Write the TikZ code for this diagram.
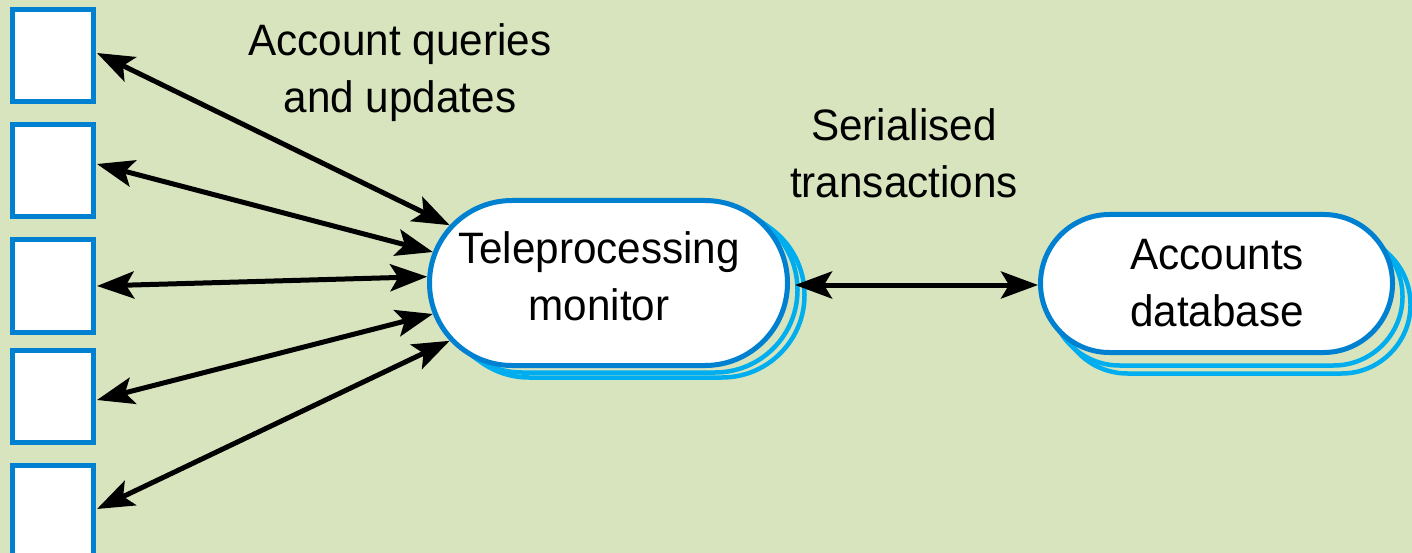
\documentclass[tikz,border=0pt]{standalone}
\usepackage{fontspec}
\setmainfont{Liberation Sans}[FakeStretch=0.96]
\usetikzlibrary{arrows.meta,shapes.misc}
\definecolor{bg}{RGB}{216,228,190}
\definecolor{fblue}{RGB}{0,128,208}
\definecolor{scyan}{RGB}{0,174,239}
\begin{document}
\begin{tikzpicture}[x=1pt,y=-1pt,
  box/.style={draw=fblue, line width=5pt, fill=white, minimum width=81pt, minimum height=92pt, inner sep=0pt},
  pill/.style={rounded rectangle, draw=fblue, line width=5pt, fill=white, inner sep=0pt},
  copyline/.style={draw=scyan, line width=4.5pt},
  lbl/.style={font=\fontsize{44}{57}\selectfont, align=center, inner sep=0pt},
  conn/.style={line width=5pt, {Stealth[length=37pt,width=27pt,inset=8pt]}-{Stealth[length=37pt,width=27pt,inset=8pt]}}
]
\useasboundingbox (0,0) rectangle (1412,553);
\fill[bg] (0,0) rectangle (1412,553);
% terminals
\node[box] (b1) at (53,55.5) {};
\node[box] (b2) at (53,171) {};
\node[box] (b3) at (53,286) {};
\node[box] (b4) at (53,396) {};
\node[box] (b5) at (53,511) {};
% shadow copies of the monitor
\draw[copyline, rounded corners=82.5pt] (446.5,212.5) rectangle (804.5,377.5);
\draw[copyline, rounded corners=82.5pt] (439.5,207.5) rectangle (797.5,372.5);
\node[pill, minimum width=358pt, minimum height=165pt] (tp) at (608.5,283) {};
% shadow copies of the database
\draw[copyline, rounded corners=69pt] (1058.5,235.5) rectangle (1410.5,373.5);
\draw[copyline, rounded corners=69pt] (1050.5,227.5) rectangle (1402.5,365.5);
\node[pill, minimum width=352pt, minimum height=138pt] (db) at (1216.5,283.5) {};
% texts (base = baseline of the last line)
\node[lbl, anchor=base] (q) at (400,113) {Account queries\\and updates};
\node[lbl, anchor=base] (s) at (904,198) {Serialised\\transactions};
\node[lbl, anchor=base] (tpt) at (599,320) {Teleprocessing\\monitor};
\node[lbl, anchor=base] (dbt) at (1217,326) {Accounts\\database};
% connectors
\draw[conn] ([shift={(1,-2.5)}]b1.east) -- (tp.160);
\draw[conn] ([shift={(1,-7)}]b2.east) -- (tp.170.3);
\draw[conn] ([shift={(1,0)}]b3.east) -- (tp.178.75);
\draw[conn] ([shift={(1,4)}]b4.east) -- (tp.190);
\draw[conn] ([shift={(1,-2)}]b5.east) -- (tp.200.8);
\draw[conn] ([shift={(5,2)}]tp.east) -- ([shift={(0,1.5)}]db.west);
\end{tikzpicture}
\end{document}
